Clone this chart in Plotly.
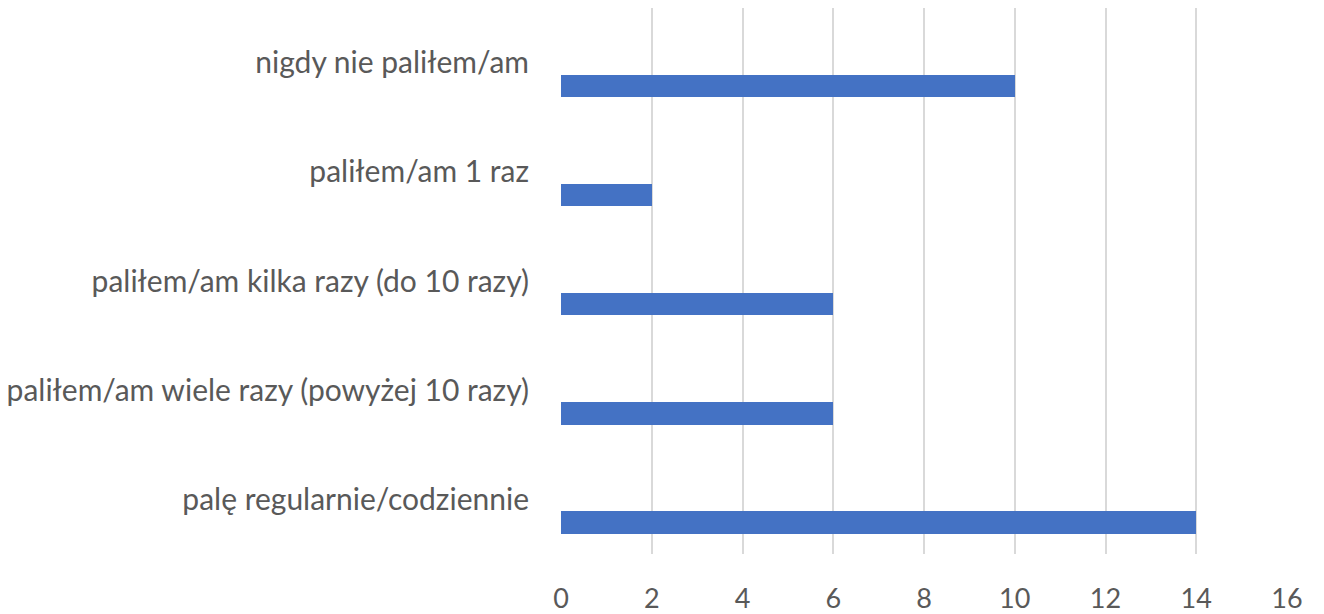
import plotly.graph_objects as go

categories = [
    "nigdy nie paliłem/am",
    "paliłem/am 1 raz",
    "paliłem/am kilka razy (do 10 razy)",
    "paliłem/am wiele razy (powyżej 10 razy)",
    "palę regularnie/codziennie",
]
values = [10, 2, 6, 6, 14]
x_ticks = [0, 2, 4, 6, 8, 10, 12, 14, 16]

fig = go.Figure()
fig.add_trace(go.Bar(
    y=categories,
    x=values,
    orientation="h",
    marker=dict(color="#4472C4", line=dict(width=0)),
    offset=0.11,
    width=0.205,
))

font = dict(family="Lato, Open Sans, sans-serif", color="#595959")
fig.update_layout(
    width=1316,
    height=606,
    margin=dict(l=553, r=37, t=0, b=60, autoexpand=False),
    paper_bgcolor="white",
    plot_bgcolor="white",
    showlegend=False,
    bargap=0,
    font=font,
    xaxis=dict(
        range=[0, 16],
        tickvals=x_ticks,
        showgrid=True,
        gridcolor="#D9D9D9",
        gridwidth=1.5,
        zeroline=False,
        showline=False,
        ticks="",
        ticklabelstandoff=26,
        tickfont=dict(size=27, color="#595959"),
        automargin=False,
    ),
    yaxis=dict(
        categoryorder="array",
        categoryarray=categories,
        range=[4.5, -0.5],
        autorange=False,
        showgrid=False,
        zeroline=False,
        showline=False,
        ticks="",
        ticklabelstandoff=31,
        tickfont=dict(size=30, color="#595959"),
        automargin=False,
    ),
)

fig.write_html("out.html")
